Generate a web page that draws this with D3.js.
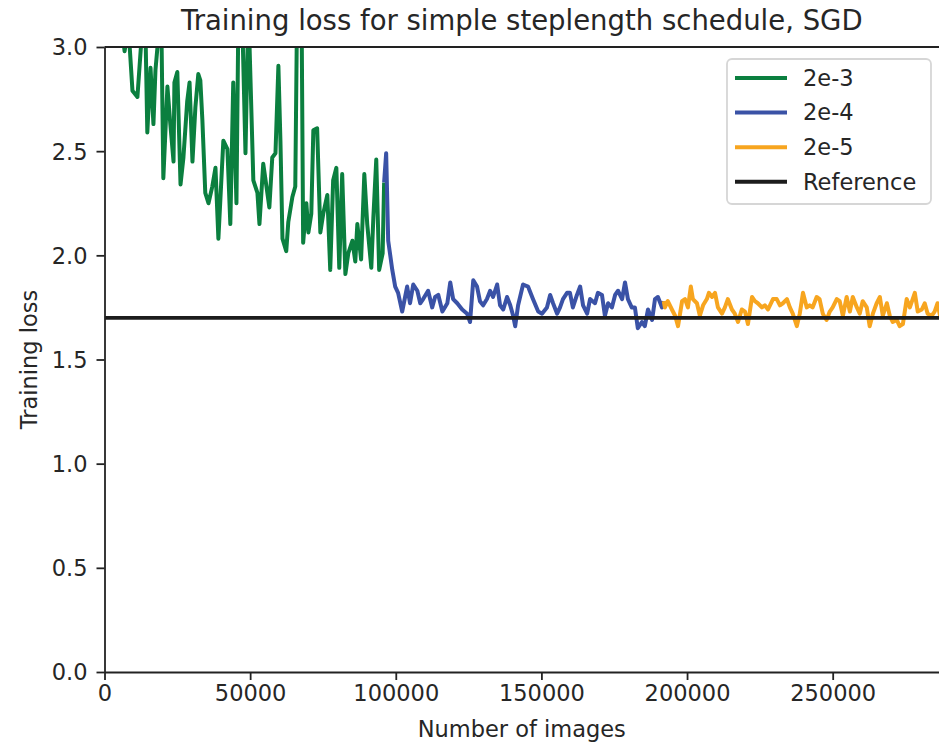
<!DOCTYPE html>
<html>
<head>
<meta charset="utf-8">
<script src="https://cdn.jsdelivr.net/npm/d3@7"></script>
<style>
  html, body { margin: 0; padding: 0; background: #fff; }
  svg { display: block; font-family: "DejaVu Sans", sans-serif; }
</style>
</head>
<body>
<svg id="chart"></svg>
<script>
// number of images seen, training loss
const imagesA = [0, 3500, 6900, 8200, 9600, 11300, 13000, 14100, 14700, 15800, 16800, 17500, 18500, 19600, 20200, 21600, 22600, 23700, 24000, 25000, 26100, 27100, 28400, 29200, 30200, 31200, 32200, 32900, 33600, 34600, 35700, 37000, 38100, 39100, 40800, 42200, 43200, 44200, 45300, 46000, 47000, 48400, 49400, 51100, 52500, 53200, 54500, 55600, 56600, 57600, 58700, 59700, 60400, 61100, 62400, 63100, 64500, 65500, 66200, 67600, 68200, 69300, 70000, 71000, 71700, 73000, 74100, 75100, 76500, 77500, 78500, 79600, 80600, 81600, 82700, 83700, 85100, 86100, 86800, 88100, 89200, 90200, 91600, 92300, 93300, 94300, 95500, 96000];
const lossA = [3.9, 3.4, 2.98, 3.1, 2.79, 2.76, 3.1, 3.05, 2.59, 2.90, 2.63, 2.89, 3.05, 3.02, 2.37, 2.81, 2.63, 2.45, 2.83, 2.88, 2.34, 2.47, 2.74, 2.83, 2.45, 2.71, 2.87, 2.84, 2.65, 2.30, 2.25, 2.33, 2.42, 2.08, 2.55, 2.51, 2.15, 2.83, 2.25, 3.2, 3.3, 2.49, 3.2, 2.36, 2.30, 2.15, 2.44, 2.33, 2.23, 2.47, 2.49, 2.91, 2.55, 2.08, 2.02, 2.16, 2.28, 2.33, 3.3, 3.3, 2.06, 2.25, 2.11, 2.20, 2.60, 2.61, 2.11, 2.20, 2.29, 1.93, 2.36, 2.42, 1.94, 2.39, 1.91, 2.01, 2.07, 1.97, 2.15, 1.98, 2.39, 2.15, 1.94, 2.18, 2.46, 1.93, 2.01, 2.35];

const imagesB = [96000, 96700, 97400, 98100, 98800, 99800, 100800, 102200, 103200, 103900, 104900, 106000, 107400, 108400, 109400, 111100, 112500, 113500, 114600, 116000, 117700, 118700, 119700, 121100, 122800, 124500, 125500, 126600, 127900, 128900, 130000, 131300, 132400, 133400, 134800, 135800, 136900, 138200, 139300, 140300, 141000, 142000, 143700, 145400, 147100, 148900, 150200, 151900, 153000, 154000, 155400, 156400, 157400, 158800, 159800, 160800, 162200, 163300, 164300, 165700, 166700, 168400, 169400, 170800, 171800, 172900, 174200, 175300, 176300, 177700, 178700, 179700, 181000, 182100, 183100, 184500, 185500, 186600, 188000, 189000, 190000, 191400, 192000];
const lossB = [2.35, 2.49, 2.07, 2.0, 1.93, 1.85, 1.82, 1.73, 1.80, 1.85, 1.77, 1.86, 1.83, 1.77, 1.79, 1.83, 1.75, 1.80, 1.81, 1.73, 1.77, 1.87, 1.79, 1.77, 1.74, 1.72, 1.68, 1.88, 1.85, 1.78, 1.76, 1.79, 1.83, 1.80, 1.86, 1.76, 1.74, 1.80, 1.76, 1.71, 1.66, 1.76, 1.86, 1.85, 1.79, 1.73, 1.72, 1.75, 1.81, 1.77, 1.72, 1.75, 1.79, 1.82, 1.82, 1.75, 1.81, 1.85, 1.76, 1.72, 1.79, 1.77, 1.82, 1.81, 1.71, 1.77, 1.75, 1.81, 1.83, 1.79, 1.87, 1.79, 1.75, 1.75, 1.65, 1.68, 1.66, 1.74, 1.69, 1.79, 1.80, 1.75, 1.78];

const imagesC = [192000, 192400, 193400, 194800, 195900, 196900, 198300, 199300, 200300, 201300, 202000, 203400, 204400, 205500, 206800, 207500, 208600, 209600, 210600, 212000, 213000, 214000, 215400, 216400, 217500, 218800, 219900, 220900, 222300, 223300, 224300, 225700, 226700, 227800, 229500, 230800, 231900, 232900, 234300, 235300, 236300, 237700, 238700, 239800, 241100, 242100, 243100, 244500, 245500, 246600, 247900, 249000, 250000, 251400, 252400, 253500, 254800, 255900, 256900, 258300, 259300, 260300, 261700, 262700, 263800, 265100, 266200, 267200, 268600, 269600, 270600, 272000, 273000, 274100, 275400, 276500, 278200, 279200, 280600, 281600, 282600, 284000, 285000, 286000, 287000];
const lossC = [1.78, 1.75, 1.78, 1.74, 1.71, 1.66, 1.78, 1.79, 1.75, 1.85, 1.79, 1.77, 1.71, 1.76, 1.79, 1.82, 1.80, 1.82, 1.75, 1.72, 1.75, 1.79, 1.74, 1.72, 1.68, 1.74, 1.73, 1.67, 1.80, 1.78, 1.77, 1.75, 1.76, 1.74, 1.79, 1.79, 1.76, 1.77, 1.79, 1.75, 1.72, 1.66, 1.72, 1.82, 1.75, 1.76, 1.75, 1.80, 1.79, 1.72, 1.69, 1.73, 1.75, 1.79, 1.78, 1.71, 1.80, 1.73, 1.80, 1.75, 1.72, 1.78, 1.75, 1.66, 1.72, 1.77, 1.80, 1.71, 1.77, 1.71, 1.68, 1.69, 1.66, 1.67, 1.79, 1.75, 1.82, 1.73, 1.74, 1.77, 1.72, 1.71, 1.73, 1.77, 1.70];

const referenceLoss = 1.7;
const seriesNames = ['2e-3', '2e-4', '2e-5', 'Reference'];
const seriesColors = ['#0b7f3f', '#3a52a6', '#f7a51f', '#1c1c1c'];
const xTicks = [0, 50000, 100000, 150000, 200000, 250000];
const yTicks = [0.0, 0.5, 1.0, 1.5, 2.0, 2.5, 3.0];

const width = 939, height = 743;
const margin = {top: 47, right: 0, bottom: 71, left: 104.5};

const svg = d3.select('#chart').attr('width', width).attr('height', height);

const x = d3.scaleLinear().domain([0, 286500]).range([margin.left, width - margin.right]);
const y = d3.scaleLinear().domain([0, 3]).range([height - margin.bottom, margin.top]);

svg.append('clipPath').attr('id', 'plotclip')
  .append('rect')
  .attr('x', margin.left).attr('y', margin.top)
  .attr('width', width - margin.right - margin.left)
  .attr('height', height - margin.bottom - margin.top);

const plot = svg.append('g').attr('clip-path', 'url(#plotclip)');

const line = d3.line().x(d => x(d[0])).y(d => y(d[1]));

const series = [
  d3.zip(imagesA, lossA),
  d3.zip(imagesB, lossB),
  d3.zip(imagesC, lossC)
];

series.forEach((s, i) => {
  plot.append('path')
    .datum(s)
    .attr('fill', 'none')
    .attr('stroke', seriesColors[i])
    .attr('stroke-width', 4)
    .attr('stroke-linejoin', 'round')
    .attr('stroke-linecap', 'butt')
    .attr('d', line);
});

// reference level
plot.append('path')
  .datum([[0, referenceLoss], [x.domain()[1], referenceLoss]])
  .attr('fill', 'none')
  .attr('stroke', seriesColors[3])
  .attr('stroke-width', 3.8)
  .attr('d', line);

// axes
const fmtY = d3.format('.1f');
const xAxis = svg.append('g')
  .attr('transform', `translate(0,${height - margin.bottom})`)
  .call(d3.axisBottom(x).tickValues(xTicks).tickFormat(d3.format('d')).tickSize(8).tickSizeOuter(0));
const yAxis = svg.append('g')
  .attr('transform', `translate(${margin.left},0)`)
  .call(d3.axisLeft(y).tickValues(yTicks).tickFormat(fmtY).tickSize(8).tickSizeOuter(0));

[xAxis, yAxis].forEach(g => {
  g.select('.domain').attr('stroke', '#222').attr('stroke-width', 1.8);
  g.selectAll('.tick line').attr('stroke', '#222').attr('stroke-width', 1.8);
  g.selectAll('.tick text').attr('fill', '#262626').attr('font-size', 22.5)
    .attr('font-family', '"DejaVu Sans", sans-serif');
});
xAxis.selectAll('.tick text').attr('dy', '0.71em').attr('y', 13);
yAxis.selectAll('.tick text').attr('x', -17).attr('dy', '0.35em');

// top spine
svg.append('line')
  .attr('x1', margin.left).attr('x2', width - margin.right)
  .attr('y1', margin.top).attr('y2', margin.top)
  .attr('stroke', '#222').attr('stroke-width', 1.8);

// title and labels
svg.append('text')
  .attr('x', (margin.left + width - margin.right) / 2)
  .attr('y', 30)
  .attr('text-anchor', 'middle')
  .attr('font-size', 27.5)
  .attr('fill', '#262626')
  .text('Training loss for simple steplength schedule, SGD');

svg.append('text')
  .attr('x', (margin.left + width - margin.right) / 2)
  .attr('y', 737)
  .attr('text-anchor', 'middle')
  .attr('font-size', 22.5)
  .attr('fill', '#262626')
  .text('Number of images');

svg.append('text')
  .attr('transform', `translate(37,${(margin.top + height - margin.bottom) / 2}) rotate(-90)`)
  .attr('text-anchor', 'middle')
  .attr('font-size', 22.5)
  .attr('fill', '#262626')
  .text('Training loss');

// legend
const legend = svg.append('g').attr('transform', 'translate(727,59)');
legend.append('rect')
  .attr('width', 204).attr('height', 145)
  .attr('rx', 5).attr('ry', 5)
  .attr('fill', '#fff').attr('fill-opacity', 0.8)
  .attr('stroke', '#d6d6d6').attr('stroke-width', 1.8);

seriesNames.forEach((name, i) => {
  const row = legend.append('g').attr('transform', `translate(0,${19 + i * 34.6})`);
  row.append('line')
    .attr('x1', 8).attr('x2', 60)
    .attr('stroke', seriesColors[i]).attr('stroke-width', 4);
  row.append('text')
    .attr('x', 76).attr('dy', '0.35em')
    .attr('font-size', 22.5)
    .attr('fill', '#262626')
    .text(name);
});
</script>
</body>
</html>
